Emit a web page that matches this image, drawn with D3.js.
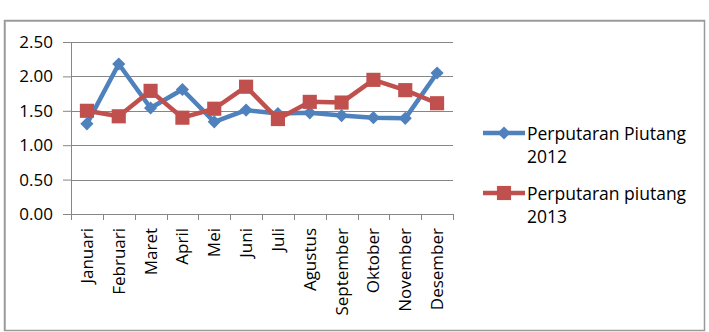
<!DOCTYPE html>
<html>
<head>
<meta charset="utf-8">
<script src="https://cdn.jsdelivr.net/npm/d3@7/dist/d3.min.js"></script>
<style>
  body { margin: 0; background: #fff; }
  text { font-family: 'Open Sans', sans-serif; fill: #000; }
</style>
</head>
<body>
<div id="chart"></div>
<script>
const months = ['Januari', 'Februari', 'Maret', 'April', 'Mei', 'Juni', 'Juli',
  'Agustus', 'September', 'Oktober', 'November', 'Desember'];
const piutang2012 = [1.31, 2.18, 1.54, 1.81, 1.34, 1.51, 1.46, 1.47, 1.43, 1.40, 1.39, 2.05];
const piutang2013 = [1.50, 1.42, 1.79, 1.40, 1.53, 1.85, 1.38, 1.63, 1.62, 1.95, 1.80, 1.61];
const yTicks = [0, 0.5, 1, 1.5, 2, 2.5];
const seriesNames = [['Perputaran Piutang', '2012'], ['Perputaran piutang', '2013']];
const colors = ['#4F81BD', '#C0504D'];

const W = 709;
const H = 332;
const margin = { top: 42, right: 256, bottom: 118, left: 71 };
const width = W - margin.left - margin.right;
const height = H - margin.top - margin.bottom;

const svg = d3.select('#chart').append('svg')
  .attr('width', W)
  .attr('height', H);

// chart border
svg.append('rect')
  .attr('x', 5.5).attr('y', 21.5)
  .attr('width', 699).attr('height', 309)
  .attr('fill', 'none')
  .attr('stroke', '#bdbdbd')
  .attr('stroke-width', 1);
svg.append('path')
  .attr('d', 'M4,20.5H704.5V330.5H4.5V20')
  .attr('fill', 'none')
  .attr('stroke', '#9a9a9a')
  .attr('stroke-width', 1.5);

const g = svg.append('g')
  .attr('transform', `translate(${margin.left},${margin.top})`);

const x = d3.scaleBand().domain(months).range([0, width]);
const y = d3.scaleLinear().domain([0, 2.5]).range([height, 0]);

// gridlines
g.selectAll('.grid')
  .data(yTicks.slice(1))
  .enter().append('line')
  .attr('x1', 0).attr('x2', width)
  .attr('y1', d => Math.round(y(d)) + 0.5)
  .attr('y2', d => Math.round(y(d)) + 0.5)
  .attr('stroke', '#868686')
  .attr('stroke-width', 1);

// y axis
const yAxis = g.append('g')
  .call(d3.axisLeft(y).tickValues(yTicks).tickFormat(d3.format('.2f')).tickSize(8).tickPadding(10));
yAxis.selectAll('path, line').attr('stroke', '#868686');
yAxis.selectAll('text').style('font-size', '17px');

// x axis with ticks at category boundaries
const xAxis = g.append('g').attr('transform', `translate(0,${height})`);
xAxis.append('line')
  .attr('x1', 0).attr('x2', width)
  .attr('y1', 0.5).attr('y2', 0.5)
  .attr('stroke', '#868686');
xAxis.selectAll('.tick')
  .data(months.concat(['end']))
  .enter().append('line')
  .attr('x1', (d, i) => Math.round(i * x.step()) + 0.5)
  .attr('x2', (d, i) => Math.round(i * x.step()) + 0.5)
  .attr('y1', 0).attr('y2', 6)
  .attr('stroke', '#868686');
xAxis.selectAll('.lbl')
  .data(months)
  .enter().append('text')
  .attr('transform', d => `translate(${x(d) + x.bandwidth() / 2 + 6},14) rotate(-90)`)
  .attr('text-anchor', 'end')
  .style('font-size', '17px')
  .text(d => d);

const line = d3.line()
  .x((d, i) => x(months[i]) + x.bandwidth() / 2)
  .y(d => y(d));

const diamond = d3.symbol().type(d3.symbolDiamond2).size(110);
const square = d3.symbol().type(d3.symbolSquare).size(200);

function drawSeries(values, color, sym) {
  g.append('path')
    .datum(values)
    .attr('d', line)
    .attr('fill', 'none')
    .attr('stroke', color)
    .attr('stroke-width', 4.5)
    .attr('stroke-linejoin', 'round');
  g.selectAll(null)
    .data(values)
    .enter().append('path')
    .attr('d', sym)
    .attr('transform', (d, i) => `translate(${x(months[i]) + x.bandwidth() / 2},${y(d)})`)
    .attr('fill', color);
}

drawSeries(piutang2012, colors[0], diamond);
drawSeries(piutang2013, colors[1], square);

// legend
const legend = svg.append('g').attr('transform', 'translate(483,0)');
const legendY = [133, 193];
const legendSyms = [diamond, square];
seriesNames.forEach((name, i) => {
  const lg = legend.append('g').attr('transform', `translate(0,${legendY[i]})`);
  lg.append('line')
    .attr('x1', 0).attr('x2', 42)
    .attr('stroke', colors[i])
    .attr('stroke-width', 4.5);
  lg.append('path')
    .attr('d', legendSyms[i])
    .attr('transform', 'translate(21,0)')
    .attr('fill', colors[i]);
  const t = lg.append('text')
    .attr('x', 44)
    .attr('y', 7)
    .style('font-size', '17.5px');
  t.append('tspan').attr('x', 44).text(name[0]);
  t.append('tspan').attr('x', 44).attr('dy', 23).text(name[1]);
});
</script>
</body>
</html>
